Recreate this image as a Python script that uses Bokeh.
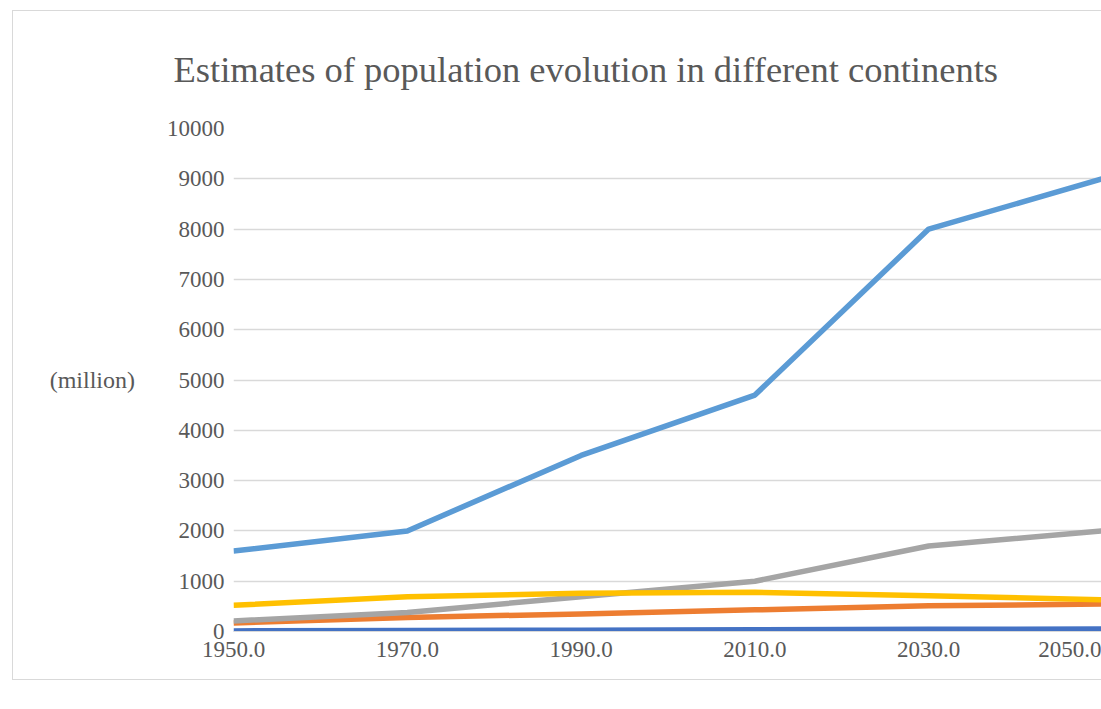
from bokeh.plotting import figure
from bokeh.models import FixedTicker, Range1d, CustomJSTickFormatter
from bokeh.embed import file_html
from bokeh.resources import INLINE

years = [1950, 1970, 1990, 2010, 2030, 2050]
oceania = [12, 19, 27, 36, 44, 50]
north_america = [170, 280, 350, 430, 510, 545]
africa = [210, 380, 690, 1000, 1700, 2000]
europe = [520, 690, 760, 780, 710, 630]
asia = [1600, 2000, 3500, 4700, 8000, 9000]
y_ticks = list(range(0, 10001, 1000))

series = [
    (oceania, "#4472C4"),
    (north_america, "#ED7D31"),
    (africa, "#A5A5A5"),
    (europe, "#FFC000"),
    (asia, "#5B9BD5"),
]

FONT = "Liberation Serif"
GREY = "#595959"

p = figure(width=1089, height=670, output_backend="svg", toolbar_location=None,
           x_range=Range1d(1950, 2050), y_range=Range1d(0, 10000),
           min_border_left=220, min_border_right=0, min_border_top=117,
           min_border_bottom=50,
           title="Estimates of population evolution in different continents")
p.margin = (10, 0, 0, 12)
p.styles = {"border": "1px solid #d9d9d9", "border-right": "none"}
p.outline_line_color = None

p.title.text_font = FONT
p.title.text_font_size = "36.5px"
p.title.text_font_style = "normal"
p.title.text_color = GREY
p.title.align = "left"
p.title.offset = -60
p.title.vertical_align = "top"
p.title.standoff = 73

for vals, col in series:
    p.line(years, vals, line_color=col, line_width=5.5, line_join="round")

p.xaxis.ticker = FixedTicker(ticks=years)
p.xaxis.formatter = CustomJSTickFormatter(code="return tick.toFixed(1);")
p.yaxis.ticker = FixedTicker(ticks=y_ticks)

for ax in (p.xaxis[0], p.yaxis[0]):
    ax.major_tick_line_color = None
    ax.minor_tick_line_color = None
    ax.major_tick_out = 0
    ax.major_tick_in = 0
    ax.major_label_text_font = FONT
    ax.major_label_text_font_size = "23px"
    ax.major_label_text_color = GREY

p.xaxis.axis_line_color = "#d9d9d9"
p.xaxis.major_label_standoff = 10
p.yaxis.axis_line_color = None
p.yaxis.major_label_standoff = 9
p.yaxis.axis_label = "(million)"
p.yaxis.axis_label_orientation = "horizontal"
p.yaxis.axis_label_text_font = FONT
p.yaxis.axis_label_text_font_size = "24px"
p.yaxis.axis_label_text_font_style = "normal"
p.yaxis.axis_label_text_color = GREY
p.yaxis.axis_label_standoff = 29

p.xgrid.grid_line_color = None
p.ygrid.grid_line_color = "#d9d9d9"
p.ygrid.grid_line_width = 1.5

open("out.html", "w").write(file_html(p, INLINE))
